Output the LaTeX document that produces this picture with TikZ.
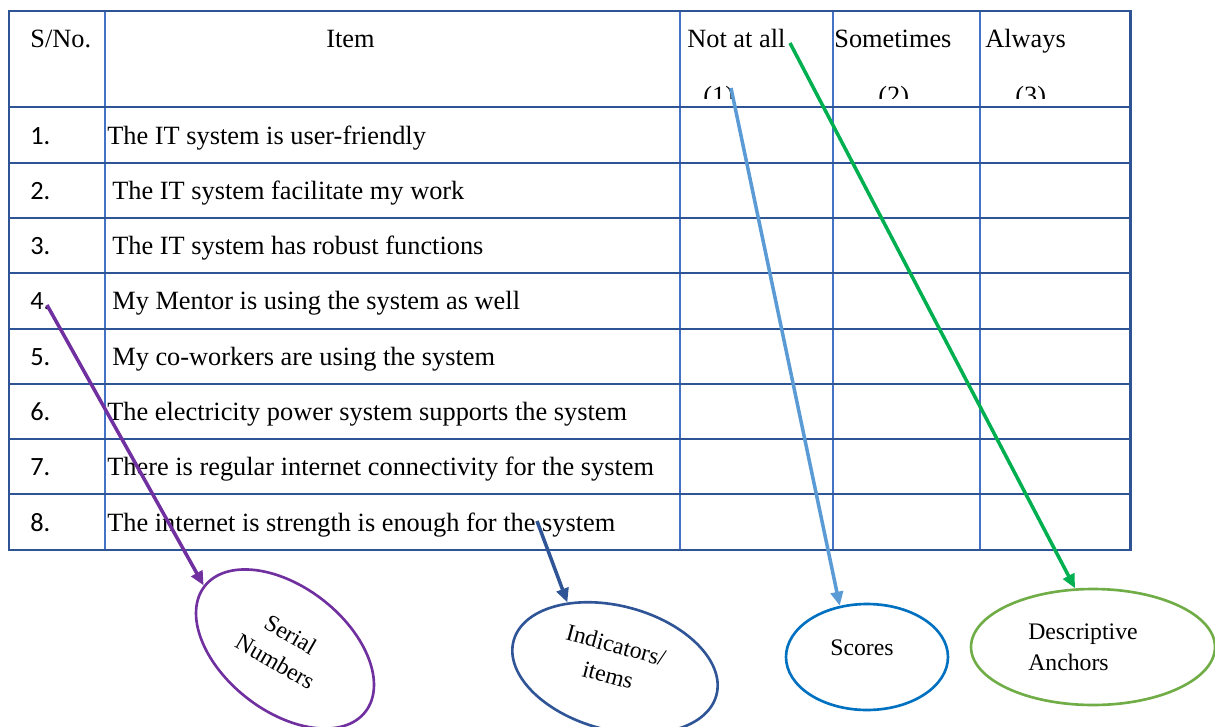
\documentclass[tikz,border=0pt]{standalone}
\usepackage{fontspec}
\setmainfont{Liberation Serif}
\newfontfamily\numfont{Carlito}
\usetikzlibrary{arrows.meta,shapes.geometric}

\definecolor{rulecol}{RGB}{47,84,150}
\definecolor{thincol}{RGB}{68,114,196}
\definecolor{serialcol}{RGB}{112,48,160}
\definecolor{indcol}{RGB}{47,85,151}
\definecolor{scorearr}{RGB}{91,155,213}
\definecolor{scorecol}{RGB}{0,112,192}
\definecolor{anchorarr}{RGB}{0,176,80}
\definecolor{anchorcol}{RGB}{112,173,71}

\tikzset{
  rowline/.style={draw=rulecol, line width=1.7pt},
  colline/.style={draw=thincol, line width=0.6pt},
  cell/.style={anchor=base west, inner sep=0pt, font=\fontsize{15}{18}\selectfont},
  numcell/.style={anchor=base west, inner sep=0pt, font=\numfont\fontsize{15}{18}\selectfont},
  bubble/.style={ellipse, line width=1.5pt, inner sep=0pt},
  bubbletext/.style={inner sep=0pt, align=center, font=\fontsize{13.5}{17.5}\selectfont},
  pointer/.style={line width=2pt, -{Triangle[length=8pt,width=7pt]}}
}

\begin{document}
\begin{tikzpicture}[x=0.02cm, y=-0.02cm]
  \useasboundingbox (0,0) rectangle (1215,727);

  % table grid
  \foreach \x in {105,680,833,980}
    \draw[colline] (\x,11) -- (\x,550);
  \foreach \y in {107,163,218,273,329,384,439,494}
    \draw[rowline] (9,\y) -- (1130,\y);
  \draw[rowline] (9,11) rectangle (1130,550);

  % header
  \node[cell] (sno) at (30,47) {S/No.};
  \node[cell] (item) at (326,47) {Item};
  \node[cell] (notatall) at (687,47) {Not at all};
  \node[cell] (sometimes) at (834,47) {Sometimes};
  \node[cell] (always) at (985,47) {Always};
  \begin{scope}
    \clip (680,60) rectangle (1130,98);
    \node[cell] (one) at (703,104) {(1)};
    \node[cell] (two) at (878,104) {(2)};
    \node[cell] (three) at (1015,104) {(3)};
  \end{scope}

  % rows
  \foreach \dx/\txt [count=\i] in {
      107/The IT system is user-friendly,
      112/The IT system facilitate my work,
      112/The IT system has robust functions,
      112/My Mentor is using the system as well,
      112/My co-workers are using the system,
      107/The electricity power system supports the system,
      107/There is regular internet connectivity for the system,
      107/The internet is strength is enough for the system} {
    \node[numcell] (num\i) at (30,{144+(\i-1)*55.3}) {\i.};
    \node[cell] (row\i) at (\dx,{144+(\i-1)*55.3}) {\txt};
  }

  % callouts
  \node[bubble, draw=serialcol, rotate=-38, minimum width=4.08cm, minimum height=2.48cm] (serial) at (285,649) {};
  \node[bubbletext, rotate=-30] (serialtxt) at (283,648) {Serial\\Numbers};
  \node[bubble, draw=indcol, rotate=-15, minimum width=4.2cm, minimum height=2.48cm] (ind) at (615,668) {};
  \node[bubbletext, rotate=-15] (indtxt) at (612,660) {Indicators/\\items};
  \node[bubble, draw=scorecol, minimum width=3.24cm, minimum height=2.12cm] (scores) at (867,657) {};
  \node[bubbletext] (scorestxt) at (862,648) {Scores};
  \node[bubble, draw=anchorcol, minimum width=4.88cm, minimum height=2.32cm] (anchors) at (1093,647) {};
  \node[bubbletext, align=left] (anchorstxt) at (1083,647) {Descriptive\\Anchors};

  \coordinate (serialtail) at (47,305);
  \coordinate (indtail) at (537,521);
  \coordinate (scoretail) at (731,88);
  \coordinate (anchortail) at (790,43);
  \draw[pointer, draw=serialcol, fill=serialcol] (serialtail) -- (serial.west);
  \draw[pointer, draw=indcol, fill=indcol] (indtail) -- (ind.141);
  \draw[pointer, draw=scorearr, fill=scorearr] (scoretail) -- (scores.118);
  \draw[pointer, draw=anchorarr, fill=anchorarr] (anchortail) -- (anchors.107);
\end{tikzpicture}
\end{document}
